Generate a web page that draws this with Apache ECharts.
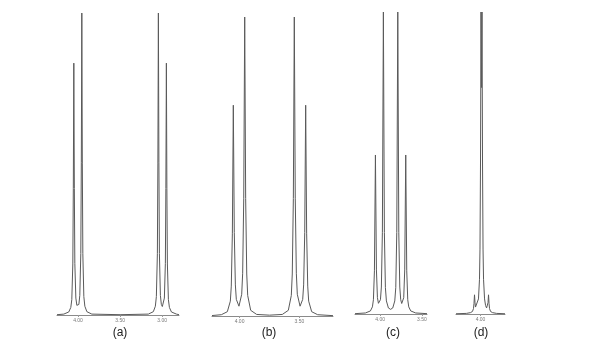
<!DOCTYPE html>
<html>
<head>
<meta charset="utf-8">
<script src="https://cdn.jsdelivr.net/npm/echarts@6/dist/echarts.min.js"></script>
<style>
html,body{margin:0;padding:0;background:#fff;}
#chart{width:600px;height:341px;}
</style>
</head>
<body>
<div id="chart"></div>
<script>
// Panel (a)
var aPpm = [4.25, 4.169, 4.110, 4.086, 4.074, 4.062, 4.056, 4.050, 4.044, 4.038, 4.026, 4.014, 4.002, 3.990, 3.979, 3.967, 3.961, 3.955, 3.949, 3.943, 3.931, 3.919, 3.895, 3.836, 3.50, 3.164, 3.105, 3.081, 3.069, 3.057, 3.051, 3.045, 3.039, 3.033, 3.021, 3.010, 2.998, 2.986, 2.974, 2.962, 2.956, 2.950, 2.944, 2.938, 2.926, 2.914, 2.890, 2.831, 2.80];
var aInt = [0.1, 0.3, 1.0, 2.5, 5.1, 16.9, 41.9, 83.4, 41.9, 17.1, 5.6, 3.2, 2.8, 3.5, 6.5, 20.4, 50.4, 100, 50.3, 20.3, 6.1, 2.9, 1.1, 0.3, 0.1, 0.3, 1.1, 2.9, 6.1, 20.3, 50.3, 100, 50.4, 20.4, 6.5, 3.5, 2.8, 3.2, 5.6, 17.1, 41.9, 83.4, 41.9, 16.9, 5.1, 2.5, 1.0, 0.3, 0.1];
// Panel (b)
var bPpm = [4.23, 4.152, 4.102, 4.077, 4.069, 4.060, 4.052, 4.044, 4.035, 4.027, 4.005, 3.982, 3.974, 3.965, 3.957, 3.949, 3.940, 3.932, 3.907, 3.857, 3.750, 3.643, 3.593, 3.568, 3.560, 3.551, 3.543, 3.535, 3.526, 3.518, 3.495, 3.473, 3.465, 3.456, 3.448, 3.440, 3.431, 3.423, 3.398, 3.348, 3.22];
var bInt = [0.15, 0.43, 1.44, 4.96, 10.0, 27.7, 70.5, 27.9, 10.4, 5.55, 3.28, 7.27, 14.3, 39.4, 100, 39.3, 14.05, 6.86, 1.9, 0.52, 0.28, 0.52, 1.9, 6.86, 14.05, 39.3, 100, 39.4, 14.3, 7.27, 3.28, 5.55, 10.4, 27.9, 70.5, 27.7, 10.0, 4.96, 1.44, 0.43, 0.12];
// Panel (c)
var cPpm = [4.30, 4.175, 4.116, 4.092, 4.080, 4.068, 4.056, 4.044, 4.032, 4.020, 4.008, 3.996, 3.985, 3.973, 3.961, 3.949, 3.937, 3.925, 3.901, 3.875, 3.849, 3.825, 3.813, 3.801, 3.789, 3.777, 3.765, 3.754, 3.742, 3.730, 3.718, 3.706, 3.694, 3.682, 3.670, 3.658, 3.634, 3.575, 3.44];
var cInt = [0.11, 0.34, 1.01, 2.36, 4.72, 14.3, 52.65, 14.6, 5.4, 3.54, 3.48, 4.74, 8.93, 27.06, 100, 26.97, 8.72, 4.33, 2.0, 1.54, 2.0, 4.33, 8.72, 26.97, 100, 27.06, 8.93, 4.74, 3.48, 3.54, 5.4, 14.6, 52.65, 14.3, 4.72, 2.36, 1.01, 0.34, 0.11];
// Panel (d)
var dPpm = [4.29, 4.167, 4.119, 4.095, 4.083, 4.077, 4.071, 4.065, 4.059, 4.048, 4.036, 4.024, 4.012, 4.006, 4.000, 3.994, 3.988, 3.982, 3.976, 3.970, 3.964, 3.952, 3.940, 3.928, 3.917, 3.911, 3.905, 3.899, 3.893, 3.881, 3.857, 3.809, 3.71];
var dInt = [0.08, 0.2, 0.45, 0.84, 1.8, 3.5, 6.35, 3.75, 2.3, 2.0, 2.8, 5.0, 11.5, 21.5, 50, 100, 75, 100, 50, 21.5, 11.5, 5.0, 2.8, 2.0, 2.3, 3.75, 6.35, 3.5, 1.8, 0.84, 0.45, 0.2, 0.08];

// Tick labels and panel captions
var aTicks = [4.00, 3.50, 3.00];
var bTicks = [4.00, 3.50];
var cTicks = [4.00, 3.50];
var dTicks = [4.00];
var captions = ['(a)', '(b)', '(c)', '(d)'];

var panels = [
  {ppm: aPpm, inten: aInt, ticks: aTicks, min: 2.80, max: 4.25, grid: {left: 57, top: 13, width: 122, height: 302}, capX: 120},
  {ppm: bPpm, inten: bInt, ticks: bTicks, min: 3.22, max: 4.23, grid: {left: 212, top: 17, width: 121, height: 299}, capX: 269},
  {ppm: cPpm, inten: cInt, ticks: cTicks, min: 3.44, max: 4.30, grid: {left: 355, top: 12, width: 72, height: 302}, capX: 393},
  {ppm: dPpm, inten: dInt, ticks: dTicks, min: 3.71, max: 4.29, grid: {left: 456, top: 12, width: 49, height: 302}, capX: 481}
];

function zip(xs, ys) {
  var out = [];
  for (var i = 0; i < xs.length; i++) out.push([xs[i], ys[i]]);
  return out;
}

var grids = [], xAxes = [], yAxes = [], series = [], graphics = [];
panels.forEach(function (p, i) {
  grids.push(p.grid);
  xAxes.push({
    type: 'value', gridIndex: i, inverse: true, min: p.min, max: p.max,
    splitLine: {show: false},
    axisLine: {show: true, onZero: false, lineStyle: {color: '#8a8a8a', width: 1}},
    axisTick: {show: true, customValues: p.ticks, length: 2, lineStyle: {color: '#999'}},
    axisLabel: {
      show: true, customValues: p.ticks, fontSize: 5, color: '#777', margin: 3,
      fontFamily: 'Liberation Sans, Arial, sans-serif',
      formatter: function (v) { return Number(v).toFixed(2); }
    }
  });
  yAxes.push({type: 'value', gridIndex: i, min: 0, max: 100, show: false});
  series.push({
    type: 'line', xAxisIndex: i, yAxisIndex: i,
    data: zip(p.ppm, p.inten),
    showSymbol: false, symbol: 'none', smooth: false, clip: false,
    lineStyle: {color: '#5a5a5a', width: 1}
  });
  graphics.push({
    type: 'text', x: p.capX, y: 333,
    style: {text: captions[i], fill: '#222', font: '12px "Liberation Sans", Arial, sans-serif', textAlign: 'center', textVerticalAlign: 'middle'}
  });
});

var chart = echarts.init(document.getElementById('chart'), null, {renderer: 'canvas'});
chart.setOption({
  animation: false,
  backgroundColor: '#fff',
  grid: grids,
  xAxis: xAxes,
  yAxis: yAxes,
  series: series,
  graphic: graphics
});
</script>
</body>
</html>
